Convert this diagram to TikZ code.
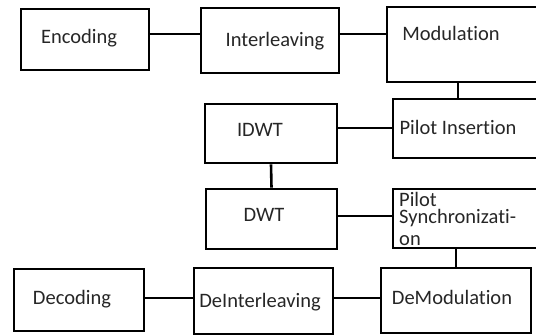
\documentclass[tikz,border=0pt]{standalone}
\usepackage{fontspec}
\setmainfont[Ligatures=NoCommon]{Carlito}
\begin{document}
\begin{tikzpicture}[x=1pt,y=-1pt,
  blk/.style={draw=black, line width=2.6pt, rectangle, inner sep=0pt},
  lbl/.style={inner sep=0pt, text=black!85, font=\fontsize{20.5}{24}\selectfont},
  wire/.style={draw=black, line width=2.6pt}]
\useasboundingbox (0,0) rectangle (536,336);
% boxes
\node[blk, minimum width=128pt, minimum height=61pt] (enc)   at (85,39.5)   {};
\node[blk, minimum width=138pt, minimum height=65pt] (inter) at (270,40.5)  {};
\node[blk, minimum width=153pt, minimum height=75pt] (mod)   at (463.5,44.5) {};
\node[blk, minimum width=147pt, minimum height=59pt] (pins)  at (466.5,128.5) {};
\node[blk, minimum width=132pt, minimum height=59pt] (idwt)  at (271,133.5) {};
\node[blk, minimum width=131pt, minimum height=60pt] (dwt)   at (271.5,219) {};
\node[blk, minimum width=147pt, minimum height=59pt] (psync) at (466.5,218.5) {};
\node[blk, minimum width=130pt, minimum height=62pt] (dec)   at (79,300) {};
\node[blk, minimum width=139pt, minimum height=66pt] (deint) at (263.5,301) {};
\node[blk, minimum width=150pt, minimum height=65pt] (demod) at (456,300.5) {};
% labels
\node[lbl, anchor=base] (tenc)   at (79,44)  {Encoding};
\node[lbl, anchor=base] (tinter) at (275,47) {Interleaving};
\node[lbl, anchor=base] (tmod)   at (451,41) {Modulation};
\node[lbl, anchor=base] (tidwt)  at (260,137) {IDWT};
\node[lbl, anchor=base] (tpins)  at (458,135) {Pilot Insertion};
\node[lbl, anchor=base] (tdwt)   at (264,222) {DWT};
\node[lbl, anchor=north west, align=left, font=\fontsize{20.5}{17}\selectfont] (tpsync) at (399,192) {Pilot\\Synchronizati-\\[5pt]on};
\node[lbl, anchor=base] (tdec)   at (72,305) {Decoding};
\node[lbl, anchor=base] (tdeint) at (260,308) {DeInterleaving};
\node[lbl, anchor=base] (tdemod) at (452,305) {DeModulation};
% helper coordinates
\coordinate (h1) at (0,34);
\coordinate (h2) at (0,128);
\coordinate (h3) at (0,216);
\coordinate (h4) at (0,298);
\coordinate (v1) at (458,0);
\coordinate (v2) at (456,0);
% connectors
\draw[wire] (enc.east |- h1) -- (inter.west |- h1);
\draw[wire] (inter.east |- h1) -- (mod.west |- h1);
\draw[wire] (mod.south -| v1) -- (pins.north -| v1);
\draw[wire] (idwt.east |- h2) -- (pins.west |- h2);
\draw[wire] (idwt.south) -- (dwt.north);
\draw[wire] (dwt.east |- h3) -- (psync.west |- h3);
\draw[wire] (psync.south -| v2) -- (demod.north -| v2);
\draw[wire] (dec.east |- h4) -- (deint.west |- h4);
\draw[wire] (deint.east |- h4) -- (demod.west |- h4);
\end{tikzpicture}
\end{document}
